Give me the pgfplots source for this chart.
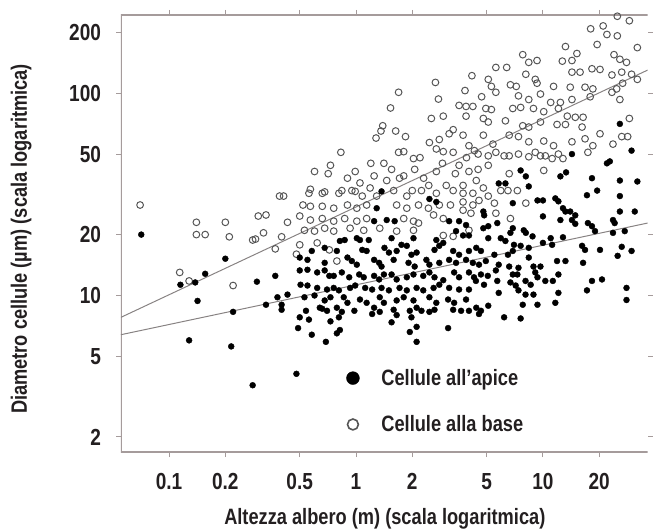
\documentclass[border=0pt]{standalone}
\usepackage{fontspec}
\setmainfont{Liberation Sans}[FakeStretch=0.82]
\usepackage{pgfplots}
\pgfplotsset{compat=1.18}
\usepackage{pgfplotstable}

\definecolor{axisgray}{RGB}{165,155,155}
\definecolor{fitgray}{RGB}{135,130,130}
\definecolor{ringgray}{RGB}{85,85,85}
\definecolor{txt}{RGB}{35,31,32}

% cellule alla base (cerchi vuoti)
\pgfplotstableread{
x y
0.07 28
0.14 23
0.14 20
0.156 20
0.20 23
0.21 19.5
0.30 24.7
0.33 25
0.28 18.8
0.29 19
0.32 20.4
0.39 31
0.41 31
0.43 23
0.40 19.5
0.37 17
0.114 13
0.128 11.8
0.22 11.2
0.48 16
4.17 122
2.66 113
1.69 101
3.83 103
2.76 93.5
1.53 84.5
3.56 87
3.88 86
4.22 86
2.53 75
2.93 77
3.88 77
1.39 69
1.36 65
1.28 60
1.63 65
1.84 61
2.47 57
2.79 59
3.15 63
3.31 66
3.74 62
4.02 55
0.83 51
1.69 51
1.80 51.4
2.03 47.5
2.69 53
2.93 51.4
3.31 51
0.73 44
0.71 40
0.60 41
0.99 41
1.41 45
1.25 39
1.71 38
1.80 39
2.06 42
2.30 38
3.56 44
4.02 41
2.69 41
0.56 32
0.66 32
0.84 33
0.95 33
1.19 34
1.46 37
3.04 35
3.74 35
25 240
29 228
18 208
21 215
22 195
25 192
13.2 170
19.5 174
32 168
7.8 155
9.3 145
8.4 142
12.7 144
14.3 145
15.2 157
24 155
25.8 147
28 142
5.6 134
6.4 134
18.3 132
20.2 131
14.3 127
15.8 127
23.4 123
26.4 127
29.8 124
32 117
8.1 124
9.1 117
5.1 117
5.3 108
6.7 110
7.2 108
9.3 112
11.4 108
14 107
16.8 107
18.5 105
24.8 105
26.7 112
4.7 96
5.6 101
7.4 97
8.4 93
9.7 99
11 90
12.4 90
14.3 93
17.9 96
23.4 101
25.8 93
4.95 84
5.3 83
6.9 84
7.6 85
8.9 84
10.1 81
12.1 84
13.5 77
14.9 76
16.4 76
4.8 75
5.1 72
6.3 73
7.8 69
8.4 68
9.7 72
11.9 70
13.2 70
16.2 68
29 75
20.2 63
26.4 61
28.4 61
4.8 62
5.4 56
6.6 62
7.4 61
8.4 57.5
10.1 58
11.4 55
14.3 57.5
16.8 59.5
18.5 55
23.7 56
5.6 51
6.6 49
9.1 51
10.3 49
12.1 50
17.4 51
6.6 40
10.1 41.5
5.95 33
6.5 33
7.3 33
4.4 37
4.8 34
5.1 31
5.5 28.6
4.5 50
5.1 49
6.2 49
7.4 50
8.4 48.5
9.7 49
11.2 47.5
12.8 47.5
4.5 42
5.1 44
4.55 29.5
0.57 33.5
0.68 32.5
0.81 32
0.99 32.7
1.08 31
1.29 31
1.59 33
1.87 31
2.24 33
2.69 32
3.31 33
3.74 32
4.22 32
0.52 28
0.57 27.6
0.66 27.6
0.76 27
0.90 28
1.01 27
1.14 28
1.65 28
1.87 27
2.16 28
2.44 27
2.79 28
3.74 29
4.22 28
0.50 24.7
0.57 23.6
0.66 24
0.76 23.3
0.87 24
1.01 23.3
1.14 24
1.80 24
2.03 23.3
2.16 22.8
2.6 25
2.93 24
3.74 26.4
4.12 25.5
0.53 21
0.60 20.8
0.68 21.5
0.76 20.8
0.93 21.5
1.10 21
1.34 21.5
1.65 20.8
2.03 21
2.93 19.8
3.31 19.6
4.02 21
0.50 17.8
0.62 18.2
0.72 16.8
0.79 14.8
5.6 25.5
6.7 24
8.1 28.6
1.55 42
2.2 48
2.45 35
2.9 45
3.4 40
3.9 48
4.3 52
1.2 45
1.05 36
0.9 38
3.2 28
2.0 33
}\base

% cellule all'apice (punti pieni)
\pgfplotstableread{
x y
0.071 20
0.20 15.2
0.156 12.8
0.115 11.3
0.138 11.6
0.37 12.5
0.295 11.7
0.142 9.4
0.33 9.0
0.38 9.8
0.40 9.0
0.40 8.5
0.43 10.1
0.22 8.3
0.128 6.0
0.215 5.6
0.28 3.6
0.48 4.1
0.49 6.9
0.50 7.8
0.56 7.6
0.58 6.4
0.50 15.4
1.37 32.7
2.47 30
2.69 29
1.29 27
1.46 23.6
1.61 23.3
1.25 23.3
3.15 23.3
3.56 23.3
3.88 22.3
0.82 18.6
0.87 18.8
1.01 19.2
1.05 18.8
1.17 18.8
1.55 19.2
1.75 17.8
1.87 17.6
2.03 19.2
2.69 18.8
2.93 18.2
3.43 20.8
3.74 19.8
4.02 19.8
0.58 16.6
0.68 17.2
0.79 16.6
1.08 16.8
1.14 16.6
1.42 17.2
1.50 16.3
1.65 16.6
1.98 15.9
2.11 16.3
2.63 16.8
2.79 17.6
3.31 16.6
3.56 15.9
4.02 16.6
0.55 15
0.68 14.5
0.90 15.4
0.95 14.8
1.01 14.2
1.25 15
1.33 14.5
1.37 13.9
1.59 15
1.91 14.5
2.06 13.9
2.38 15
2.47 14.2
2.79 14.5
3.15 15
3.43 14.5
3.88 15
4.22 14.5
0.50 13.3
0.55 13.4
0.62 13
0.68 13.3
0.72 12.5
0.76 12.5
0.84 13
0.92 12.3
1.04 12.7
1.10 12.3
1.25 12.5
1.33 12
1.41 12.7
1.55 12.7
1.65 12
1.87 12.3
2.03 12.7
2.29 12.5
2.47 13
2.63 12.3
2.93 11.9
3.35 13
3.56 12.3
4.02 13
4.28 12.3
0.505 11.3
0.55 11.2
0.62 10.9
0.70 10.7
0.76 10.9
0.81 10.6
0.93 10.9
0.99 11.2
1.12 10.9
1.22 10.7
1.37 10.9
1.50 10.6
1.71 10.9
1.87 10.6
2.11 10.9
2.29 10.6
2.60 10.9
2.79 11.3
3.15 10.9
3.56 10.7
4.02 10.7
0.53 9.8
0.60 10
0.68 9.45
0.73 9.8
0.86 9.8
0.90 9.2
1.05 9.55
1.14 9.2
1.34 9.8
1.41 9.2
1.65 9.45
1.80 9.8
2.03 9.45
2.47 9.8
2.69 9.2
3.11 9.55
3.35 9.2
3.88 9.55
0.54 8.4
0.64 8.7
0.79 8.7
0.84 8.3
0.98 8.4
1.25 8.7
1.34 8.3
1.59 8.5
1.94 8.4
2.11 8.7
2.47 8.3
2.63 8.5
3.31 8.5
3.65 8.4
4.02 8.4
0.66 8.6
0.70 8.4
0.73 7.45
0.81 7.8
0.79 6.5
0.82 6.75
0.69 5.9
1.22 8.1
1.55 7.37
1.65 8.0
1.98 7.8
1.94 6.6
2.11 7.0
2.11 5.9
2.24 8.4
3.11 6.9
14.3 50
29.8 52
22 45
22.8 46
7.6 41.5
8.1 38.8
13.3 40.6
12.4 38.8
18.3 38
25.8 37
32 36.6
5.8 35.8
6.3 35.8
8.4 34.6
19.5 33
17.2 31.3
6.9 28.6
9.35 29.5
10 29.5
11.65 30.2
12.1 29.2
25.8 31
4.8 26
4.85 24.9
12.8 27
13.2 26
14 26
14.9 24.9
10 24.6
12.4 23.6
25.8 26
31 26
14.3 23.6
14.9 22.6
17.4 22.8
18.3 22
23.7 23.6
24.2 22.8
4.8 21.5
5.1 22
5.7 22.8
6.9 21.5
6.7 20.4
7.9 21
8.1 20.4
8.8 19.6
11 19.2
12.8 19.4
19 20.8
23.7 20.4
27.4 20.8
5.1 19.2
5.95 19.2
6.3 18.6
7.0 17.8
6.9 16.6
10 18.2
11.2 17.8
7.6 17.6
8.4 17.2
16.2 17.6
16.8 16.8
20.2 16.8
26.4 17.4
29.8 16.6
25.1 15.7
4.4 17.2
4.66 16.6
5.5 15.9
6.5 15.9
8.4 15.4
11.9 14.8
13.2 14.8
16.4 14.5
4.55 14.2
4.95 14.8
5.8 14.2
6.6 13.9
7.4 13.7
8.9 13.9
9.7 13.9
4.66 12.7
5.07 12.5
5.6 13.3
6.9 12.7
7.3 12.7
9.1 13
9.35 12.3
12.1 12.7
4.38 11.8
4.84 11.3
5.7 11.8
6.7 11.6
7.15 11.2
8.07 11.8
8.6 11.3
10.3 11.8
11.3 11.8
18.3 11.8
20.7 12
5.8 10.3
7.4 10.6
8.07 10.1
8.9 10.1
12.1 10.3
17.2 10.6
28 10.9
28 9.5
7.8 9.0
9.35 9.0
11.65 9.2
4.4 8.7
4.66 8.4
5.1 8.9
6.2 7.8
7.6 7.7
4.55 8.1
25.8 70.5
}\apice

\begin{document}
\begin{tikzpicture}
\begin{axis}[
  scale only axis,
  width=531bp, height=441bp,
  xmode=log, ymode=log,
  xmin=0.0553, xmax=36.3,
  ymin=1.68, ymax=243.8,
  axis line style={draw=none},
  xtick={0.1,0.2,0.5,1,2,5,10,20},
  xticklabels={0.1,0.2,0.5,1,2,5,10,20},
  ytick={2,5,10,20,50,100,200},
  yticklabels={2,5,10,20,50,100,200},
  minor tick style={draw=none},
  tick align=outside,
  major tick length=5bp,
  major tick style={axisgray, line width=1bp},
  every tick label/.append style={font=\bfseries\fontsize{23.5}{25}\selectfont, text=txt, inner sep=0pt},
  xticklabel style={yshift=-16bp},
  yticklabel style={xshift=-15bp},
  xlabel={Altezza albero (m) (scala logaritmica)},
  ylabel={Diametro cellule (µm) (scala logaritmica)},
  label style={font=\bfseries\fontsize{22.5}{26}\selectfont, text=txt, inner sep=0pt},
  xlabel style={at={(axis description cs:0.501,0)}, anchor=base, yshift=-73bp},
  ylabel style={at={(axis description cs:-0.1789,0.4875)}, anchor=base, rotate=0},
  legend style={at={(axis description cs:0.4275,0.19)}, anchor=north west,
    draw=none, fill=none, inner sep=0pt, row sep=29bp,
    font=\bfseries\fontsize{22.5}{26}\selectfont, text=txt,
    nodes={inner sep=0pt},
    /tikz/every odd column/.append style={column sep=22bp}},
  legend cell align=left,
  reverse legend,
]
\draw[axisgray, line width=1.5bp] (rel axis cs:1,1) -- (rel axis cs:0,1) -- (rel axis cs:0,0) -- (rel axis cs:1,0);
\addplot[fitgray, line width=1bp, forget plot] coordinates {(0.0553,7.8) (36.3,130)};
\addplot[fitgray, line width=1bp, forget plot] coordinates {(0.0553,6.4) (36.3,22.8)};
\addplot[only marks, mark=o, mark size=3.4bp, mark options={ringgray, line width=1bp},
  legend image code/.code={\draw[ringgray, line width=1.6bp] (0bp,0bp) circle (5.5bp);}]
  table[x=x, y=y] {\base};
\addlegendentry{\bfseries Cellule alla base}
\addplot[only marks, mark=*, mark size=3bp, mark options={black},
  legend image code/.code={\fill[black] (0bp,0bp) circle (6.5bp);}]
  table[x=x, y=y] {\apice};
\addlegendentry{\bfseries Cellule all’apice}
\end{axis}
\path[use as bounding box] ([shift={(-122bp,-80bp)}]current axis.south west) rectangle ([shift={(0bp,15bp)}]current axis.north east);
\end{tikzpicture}
\end{document}
